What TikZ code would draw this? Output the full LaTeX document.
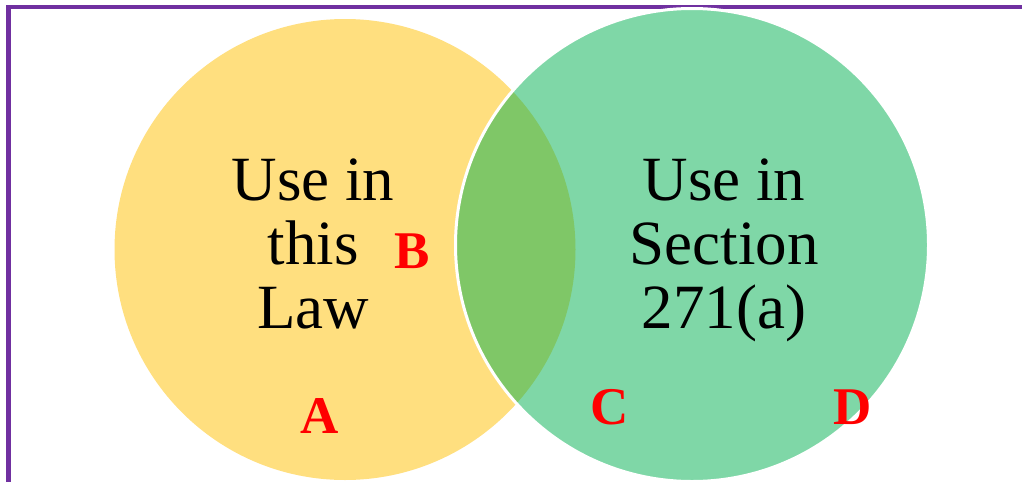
\documentclass[tikz,border=0pt]{standalone}
\usepackage{fontspec}
\setmainfont{Liberation Serif}
\definecolor{framecol}{RGB}{112,48,160}
\definecolor{goldc}{RGB}{255,192,0}
\definecolor{greenc}{RGB}{0,176,80}
\definecolor{labred}{RGB}{255,0,0}
\tikzset{
  setcircle/.style={circle, inner sep=0pt, fill opacity=0.5},
  maintext/.style={align=center, inner sep=0pt, text=black, font=\fontsize{63}{64}\selectfont},
  region/.style={anchor=base, inner sep=0pt, text=labred, font=\fontsize{53}{60}\selectfont\bfseries}
}
\begin{document}
\begin{tikzpicture}[x=1pt,y=-1pt]
\useasboundingbox (0,0) rectangle (1022,482);
\fill[white] (0,0) rectangle (1022,482);
\draw[framecol, line width=4.4pt] (1022,7) -- (8.5,7) -- (8.5,482);
\node[setcircle, fill=goldc, minimum size=461pt] (law) at (345,249.5) {};
\node[setcircle, fill=greenc, draw=white, draw opacity=1, line width=3pt, minimum size=473pt] (sec) at (692,245) {};
\node[maintext] (lawtext) at (313,243.5) {Use in\\this\\Law};
\node[maintext] (sectext) at (724,250.3) {Use in\\Section\\271(a)};
\node[region] (A) at (320,433) {A};
\node[region] (B) at (412,268) {B};
\node[region] (C) at (610,424) {C};
\node[region] (D) at (853,424) {D};
\end{tikzpicture}
\end{document}
